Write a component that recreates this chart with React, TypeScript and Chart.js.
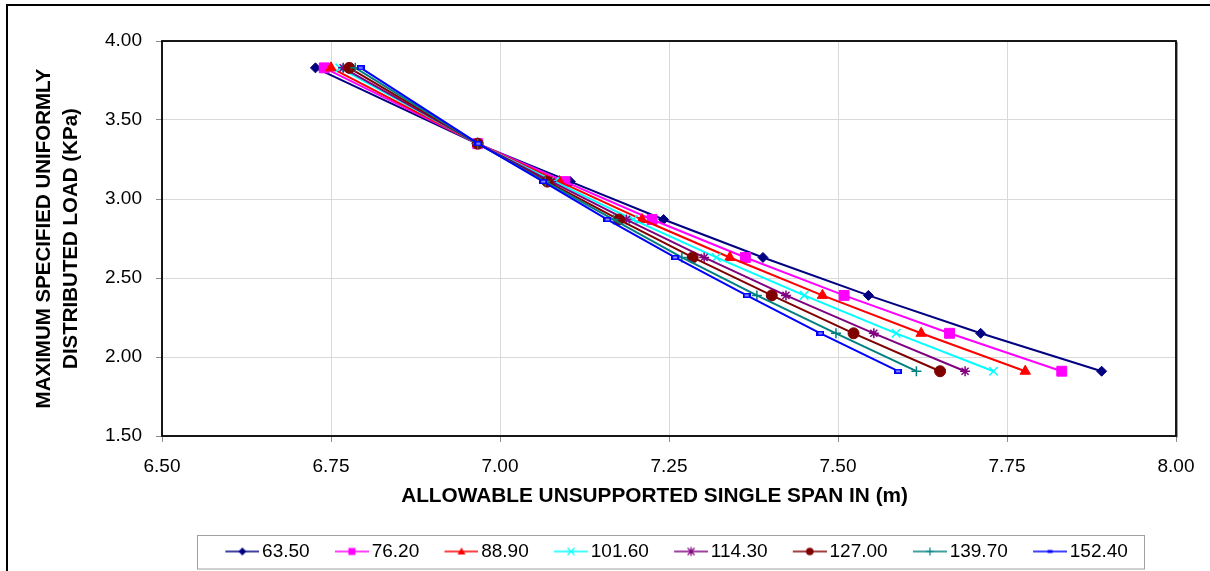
import React, { useEffect, useRef } from "react";
import { Chart, registerables } from "chart.js";

Chart.register(...registerables);

const FONT = "'Liberation Sans', Arial, Helvetica, sans-serif";

// Series (legend labels)
const seriesLabels = ["63.50", "76.20", "88.90", "101.60", "114.30", "127.00", "139.70", "152.40"];

// Shared Y values (KPa)
const loadValues = [3.83, 3.35, 3.11, 2.87, 2.63, 2.39, 2.15, 1.91];

// X values (m) per series
const span63_50 = [6.727, 6.966, 7.104, 7.242, 7.389, 7.545, 7.711, 7.890];
const span76_20 = [6.740, 6.967, 7.096, 7.225, 7.363, 7.509, 7.665, 7.831];
const span88_90 = [6.750, 6.967, 7.088, 7.210, 7.340, 7.477, 7.623, 7.777];
const span101_60 = [6.763, 6.967, 7.081, 7.197, 7.320, 7.450, 7.586, 7.730];
const span114_30 = [6.768, 6.967, 7.076, 7.187, 7.302, 7.423, 7.553, 7.688];
const span127_00 = [6.777, 6.967, 7.070, 7.176, 7.285, 7.402, 7.523, 7.651];
const span139_70 = [6.786, 6.967, 7.067, 7.168, 7.269, 7.380, 7.497, 7.616];
const span152_40 = [6.794, 6.968, 7.064, 7.159, 7.259, 7.365, 7.474, 7.589];

const spanSeries = [span63_50, span76_20, span88_90, span101_60, span114_30, span127_00, span139_70, span152_40];

// Tick labels
const xTicks = [6.5, 6.75, 7.0, 7.25, 7.5, 7.75, 8.0];
const yTicks = [1.5, 2.0, 2.5, 3.0, 3.5, 4.0];

const colors = ["#000080", "#FF00FF", "#FF0000", "#00FFFF", "#800080", "#800000", "#008080", "#0000FF"];
const markerKinds = ["diamond", "square", "triangle", "x", "star", "circle", "plus", "smallrect"];

function makeBlueMarker(): HTMLCanvasElement {
  const c = document.createElement("canvas");
  c.width = 8;
  c.height = 5;
  const ctx = c.getContext("2d")!;
  ctx.fillStyle = "#0000FF";
  ctx.fillRect(0, 0, 8, 5);
  ctx.fillStyle = "#8c8cff";
  ctx.fillRect(2, 1.5, 4, 2);
  return c;
}

function drawMiniMarker(ctx: CanvasRenderingContext2D, kind: string, x: number, y: number, color: string) {
  ctx.fillStyle = color;
  ctx.strokeStyle = color;
  ctx.lineWidth = 1.2;
  ctx.beginPath();
  switch (kind) {
    case "diamond":
      ctx.moveTo(x, y - 4); ctx.lineTo(x + 4, y); ctx.lineTo(x, y + 4); ctx.lineTo(x - 4, y); ctx.closePath(); ctx.fill();
      break;
    case "square":
      ctx.fillRect(x - 3.5, y - 3.5, 7, 7);
      break;
    case "triangle":
      ctx.moveTo(x, y - 4); ctx.lineTo(x + 4, y + 3); ctx.lineTo(x - 4, y + 3); ctx.closePath(); ctx.fill();
      break;
    case "x":
      ctx.moveTo(x - 3.5, y - 3.5); ctx.lineTo(x + 3.5, y + 3.5); ctx.moveTo(x + 3.5, y - 3.5); ctx.lineTo(x - 3.5, y + 3.5); ctx.stroke();
      break;
    case "star":
      ctx.moveTo(x - 3.5, y - 3.5); ctx.lineTo(x + 3.5, y + 3.5); ctx.moveTo(x + 3.5, y - 3.5); ctx.lineTo(x - 3.5, y + 3.5);
      ctx.moveTo(x, y - 4.5); ctx.lineTo(x, y + 4.5); ctx.stroke();
      break;
    case "circle":
      ctx.arc(x, y, 3.8, 0, Math.PI * 2); ctx.fill();
      break;
    case "plus":
      ctx.moveTo(x - 4, y); ctx.lineTo(x + 4, y); ctx.moveTo(x, y - 4); ctx.lineTo(x, y + 4); ctx.stroke();
      break;
    case "smallrect":
      ctx.fillRect(x - 2.5, y - 1.5, 5, 3);
      break;
  }
}

function makeLegendImage(i: number): HTMLCanvasElement {
  const c = document.createElement("canvas");
  c.width = 56;
  c.height = 14;
  const ctx = c.getContext("2d")!;
  ctx.strokeStyle = colors[i];
  ctx.lineWidth = 1.6;
  ctx.beginPath();
  ctx.moveTo(22, 7);
  ctx.lineTo(56, 7);
  ctx.stroke();
  drawMiniMarker(ctx, markerKinds[i], 39, 7, colors[i]);
  return c;
}

const framePlugin = {
  id: "frames",
  afterDraw(chart: any) {
    const { ctx, chartArea } = chart;
    ctx.save();
    // outer chart frame
    ctx.strokeStyle = "#000";
    ctx.lineWidth = 2;
    ctx.strokeRect(7, 5, 1215, 600);
    // plot area border
    ctx.lineWidth = 1.8;
    ctx.strokeRect(chartArea.left, chartArea.top, chartArea.right - chartArea.left, chartArea.bottom - chartArea.top);
    ctx.strokeStyle = "#9a9a9a";
    ctx.lineWidth = 1;
    ctx.beginPath();
    ctx.moveTo(chartArea.right + 1.5, chartArea.top + 1);
    ctx.lineTo(chartArea.right + 1.5, chartArea.bottom + 1.5);
    ctx.stroke();
    // legend frame
    ctx.strokeStyle = "#a0a0a0";
    ctx.lineWidth = 1;
    ctx.strokeRect(197.5, 535.5, 947, 33.5);
    ctx.restore();
  },
};

export default function App() {
  const canvasRef = useRef<HTMLCanvasElement | null>(null);

  useEffect(() => {
    if (!canvasRef.current) return;
    const blueMarker = makeBlueMarker();
    const legendImages = seriesLabels.map((_, i) => makeLegendImage(i));

    const pointStyles: any[] = ["rectRot", "rect", "triangle", "crossRot", "star", "circle", "cross", blueMarker];
    const radii = [5, 7, 6, 6, 5, 5.5, 5, 4];
    const borderWidths = [1, 1, 1, 1.5, 1.5, 1, 1.5, 1];

    const datasets = seriesLabels.map((label, i) => ({
      label,
      data: loadValues.map((y, j) => ({ x: spanSeries[i][j], y })),
      borderColor: colors[i],
      backgroundColor: colors[i],
      borderWidth: 2,
      showLine: true,
      fill: false,
      tension: 0,
      pointStyle: pointStyles[i],
      pointRadius: radii[i],
      pointHoverRadius: radii[i],
      pointBorderColor: colors[i],
      pointBackgroundColor: colors[i],
      pointBorderWidth: borderWidths[i],
      order: seriesLabels.length - i,
    }));

    const chart = new Chart(canvasRef.current, {
      type: "scatter",
      data: { datasets },
      options: {
        animation: false,
        responsive: false,
        maintainAspectRatio: false,
        layout: { padding: { left: 0, right: 34, top: 41, bottom: 0 } },
        scales: {
          x: {
            type: "linear",
            min: 6.5,
            max: 8.0,
            afterFit: (s: any) => { s.height = 96; },
            afterBuildTicks: (s: any) => { s.ticks = xTicks.map((v) => ({ value: v })); },
            grid: { color: "#d9d9d9", tickColor: "#8c8c8c", tickLength: 6, lineWidth: 1 },
            border: { display: false },
            ticks: {
              color: "#000",
              font: { family: FONT, size: 19 },
              padding: 13,
              maxRotation: 0,
              autoSkip: false,
              callback: (v: any) => Number(v).toFixed(2),
            },
            title: {
              display: true,
              text: "ALLOWABLE UNSUPPORTED SINGLE SPAN IN (m)\u00A0\u00A0\u00A0\u00A0\u00A0",
              color: "#000",
              font: { family: FONT, size: 20.8, weight: "bold", lineHeight: 1.2 },
              padding: { top: 0, bottom: 23 },
            },
          },
          y: {
            type: "linear",
            min: 1.5,
            max: 4.0,
            afterFit: (s: any) => { s.width = 162; },
            afterBuildTicks: (s: any) => { s.ticks = yTicks.map((v) => ({ value: v })); },
            grid: { color: "#d9d9d9", tickColor: "#8c8c8c", tickLength: 6, lineWidth: 1 },
            border: { display: false },
            ticks: {
              color: "#000",
              font: { family: FONT, size: 19 },
              padding: 14,
              autoSkip: false,
              callback: (v: any) => Number(v).toFixed(2),
            },
            title: {
              display: true,
              text: ["MAXIMUM SPECIFIED UNIFORMLY", "DISTRIBUTED LOAD (KPa)"],
              color: "#000",
              font: { family: FONT, size: 20.5, weight: "bold", lineHeight: 27 / 20.5 },
              padding: { top: 31, bottom: 0 },
            },
          },
        },
        plugins: {
          legend: {
            position: "bottom",
            fullSize: false,
            labels: {
              usePointStyle: true,
              pointStyleWidth: 42.5,
              padding: 10,
              color: "#000",
              font: { family: FONT, size: 19 },
              sort: (a: any, b: any) => a.datasetIndex - b.datasetIndex,
              generateLabels: (ch: any) => {
                const items = (Chart.defaults as any).plugins.legend.labels.generateLabels(ch);
                items.forEach((it: any) => { it.pointStyle = legendImages[it.datasetIndex]; });
                return items;
              },
            },
          },
          tooltip: { enabled: false },
        },
      } as any,
      plugins: [framePlugin],
    });

    return () => { chart.destroy(); };
  }, []);

  return (
    <div style={{ position: "absolute", left: 0, top: 0, width: 1210, height: 571, background: "#fff" }}>
      <canvas ref={canvasRef} width={1210} height={571} style={{ display: "block" }} />
    </div>
  );
}
